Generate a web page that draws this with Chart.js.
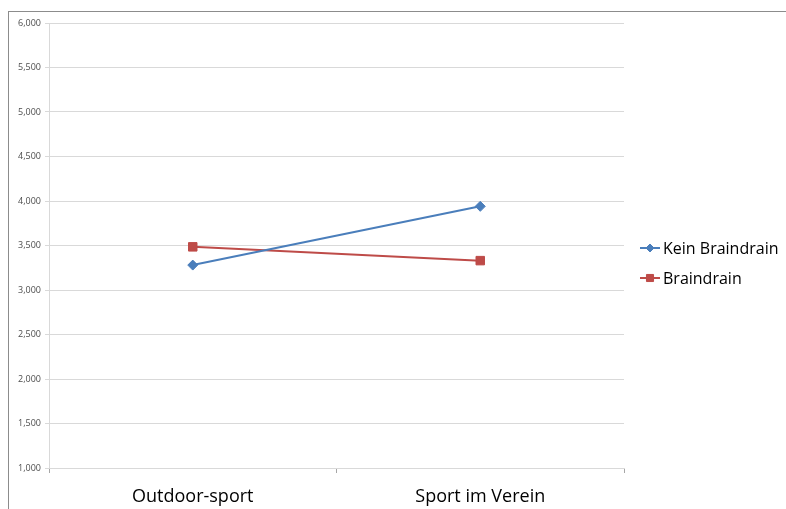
<!DOCTYPE html>
<html>
<head>
<meta charset="utf-8">
<script src="https://cdn.jsdelivr.net/npm/chart.js@4"></script>
<style>
  body { margin: 0; background: #fff; }
  #rahmen {
    position: absolute; left: 8px; top: 11px;
    width: 778px; height: 498px;
    border-top: 1px solid #8c8c8c; border-left: 1px solid #8c8c8c;
  }
  #grafico { display: block; }
</style>
</head>
<body>
<div id="rahmen"><canvas id="grafico" width="777" height="497"></canvas></div>
<script>
// Kategorien und Werte
const kategorien = ["Outdoor-sport", "Sport im Verein"];
const keinBraindrain = [3.28, 3.94];
const braindrain = [3.485, 3.33];
const serienNamen = ["Kein Braindrain", "Braindrain"];
const yMin = 1, yMax = 6, ySchritt = 0.5;

const blau = "#4a7ebb";
const rot = "#be4b48";

// Legende rechts: Linie mit Markierung, wie in Excel
const legendePlugin = {
    id: "legendeRechts",
    afterDraw(chart) {
        const ctx = chart.ctx;
        const x0 = 631, breite = 20, textX = 654;
        const zeilen = [236, 266];
        chart.data.datasets.forEach((ds, i) => {
            const y = zeilen[i];
            ctx.save();
            ctx.strokeStyle = ds.borderColor;
            ctx.fillStyle = ds.backgroundColor;
            ctx.lineWidth = 2;
            ctx.beginPath();
            ctx.moveTo(x0, y);
            ctx.lineTo(x0 + breite, y);
            ctx.stroke();
            ctx.lineWidth = 1;
            Chart.helpers.drawPoint(ctx, {
                pointStyle: ds.pointStyle,
                radius: ds.pointRadius - 1,
                borderWidth: 1
            }, x0 + breite / 2, y);
            ctx.fillStyle = "#000";
            ctx.font = "16px 'Open Sans'";
            ctx.textBaseline = "middle";
            ctx.textAlign = "left";
            ctx.fillText(ds.label, textX, y + 1);
            ctx.restore();
        });
    }
};

const ctx = document.getElementById("grafico").getContext("2d");
new Chart(ctx, {
    type: "line",
    data: {
        labels: kategorien,
        datasets: [
            {
                label: serienNamen[0],
                data: keinBraindrain,
                borderColor: blau,
                backgroundColor: blau,
                borderWidth: 2,
                pointStyle: "rectRot",
                pointRadius: 5,
                pointBorderWidth: 1
            },
            {
                label: serienNamen[1],
                data: braindrain,
                borderColor: rot,
                backgroundColor: rot,
                borderWidth: 2,
                pointStyle: "rect",
                pointRadius: 6,
                pointBorderWidth: 1
            }
        ]
    },
    options: {
        responsive: false,
        animation: false,
        layout: { padding: { top: 11, right: 162, left: 0, bottom: 0 } },
        plugins: {
            legend: { display: false },
            tooltip: { enabled: false }
        },
        scales: {
            x: {
                offset: true,
                grid: {
                    offset: true,
                    drawOnChartArea: false,
                    drawTicks: true,
                    tickLength: 5,
                    tickColor: "#a6a6a6"
                },
                border: { color: "#d9d9d9" },
                ticks: {
                    color: "#000",
                    font: { family: "'Open Sans'", size: 18 },
                    padding: 13
                },
                afterFit(scale) { scale.height = 41; }
            },
            y: {
                min: yMin,
                max: yMax,
                grid: { color: "#d9d9d9", tickLength: 4 },
                border: { color: "#d9d9d9" },
                ticks: {
                    stepSize: ySchritt,
                    color: "#4d4d4d",
                    font: { family: "'Open Sans'", size: 9 },
                    padding: 4,
                    callback: v => v.toFixed(3).replace(".", ",")
                },
                afterFit(scale) { scale.width = 40; }
            }
        }
    },
    plugins: [legendePlugin]
});
</script>
</body>
</html>
